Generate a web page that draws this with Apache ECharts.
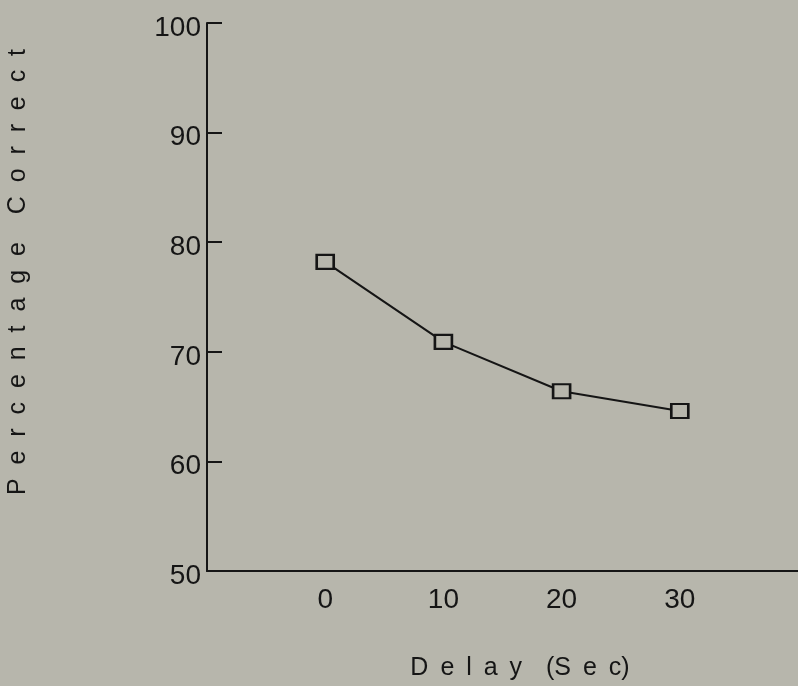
<!DOCTYPE html>
<html>
<head>
<meta charset="utf-8">
<script src="https://cdn.jsdelivr.net/npm/echarts@6/dist/echarts.min.js"></script>
<style>
html,body{margin:0;padding:0;background:#b7b6ac;}
#chart{width:798px;height:686px;}
</style>
</head>
<body>
<div id="chart"></div>
<script>
const delays = [0, 10, 20, 30];
const percentCorrect = [78.2, 70.9, 66.4, 64.6];
const xTickLabels = [0, 10, 20, 30];
const yTickLabels = [50, 60, 70, 80, 90, 100];
const xTitle = 'Delay (Sec)';
const yTitle = 'Percentage Correct';

function spaced(s, gap) {
  return s.split(' ').map(w => {
    let out = '';
    const ch = w.split('');
    ch.forEach((c, i) => {
      out += c;
      if (i < ch.length - 1 && c !== '(' && ch[i + 1] !== ')') out += gap;
    });
    return out;
  }).join(gap + gap);
}

const chart = echarts.init(document.getElementById('chart'));
const ink = '#151515';
const font = 'Liberation Sans';
chart.setOption({
  backgroundColor: '#b7b6ac',
  animation: false,
  grid: {left: 207, right: -5, top: 23, bottom: 115},
  xAxis: {
    type: 'value', min: -10, max: 40, interval: 10,
    axisLine: {show: true, onZero: false, lineStyle: {color: ink, width: 2}},
    axisTick: {show: false},
    splitLine: {show: false},
    axisLabel: {
      customValues: xTickLabels,
      color: ink, fontFamily: font, fontSize: 28, margin: 15
    }
  },
  yAxis: {
    type: 'value', min: 50, max: 100, interval: 10,
    axisLine: {show: true, onZero: false, lineStyle: {color: ink, width: 2}},
    axisTick: {show: true, inside: true, length: 15, lineStyle: {color: ink, width: 2}},
    splitLine: {show: false},
    axisLabel: {
      customValues: yTickLabels,
      color: ink, fontFamily: font, fontSize: 28, margin: 6,
      verticalAlign: 'top', lineHeight: 10
    }
  },
  graphic: [
    {type: 'text', x: 520, y: 668,
      style: {text: spaced(xTitle, ' \u2009'), fill: ink, font: '25px "Liberation Sans"', align: 'center', verticalAlign: 'middle'}},
    {type: 'text', x: 6, y: 272, rotation: Math.PI / 2,
      style: {text: spaced(yTitle, '  '), fill: ink, font: '25px "Liberation Sans"', align: 'center', verticalAlign: 'top'}}
  ],
  series: [{
    type: 'line',
    data: delays.map((d, i) => [d, percentCorrect[i]]),
    symbol: 'rect',
    symbolSize: [17, 14],
    showAllSymbol: true,
    lineStyle: {color: ink, width: 2},
    itemStyle: {color: '#b7b6ac', borderColor: ink, borderWidth: 2.4}
  }]
});
</script>
</body>
</html>
